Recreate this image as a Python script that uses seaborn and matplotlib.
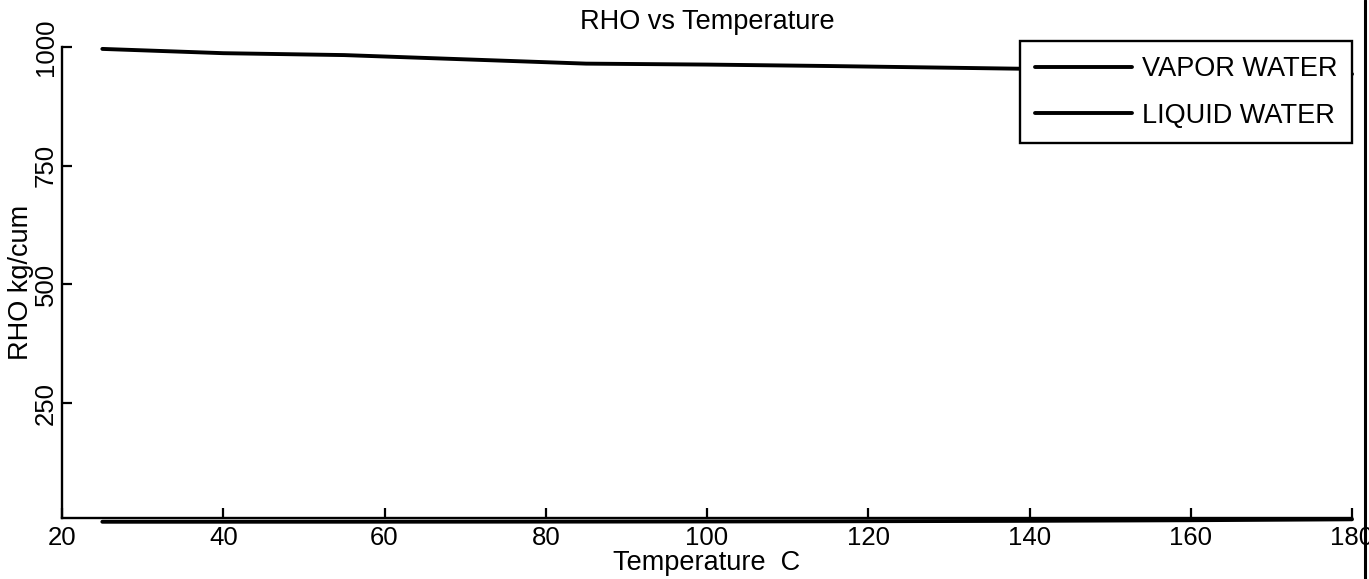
import matplotlib
matplotlib.use("Agg")
import matplotlib.pyplot as plt
from matplotlib.lines import Line2D
import pandas as pd
import seaborn as sns

# Temperatures (C) at which densities were tabulated
temperature = [25, 40, 55, 70, 85, 100, 115, 140, 160, 180]
# Density of saturated vapour, kg/m^3
rho_vapor = [0.02, 0.05, 0.10, 0.20, 0.35, 0.60, 0.97, 1.97, 3.26, 5.16]
# Density of liquid water, kg/m^3
rho_liquid = [996, 987, 983, 974, 965, 963, 960, 954, 949, 943]

series_names = ["VAPOR WATER", "LIQUID WATER"]
x_ticks = [20, 40, 60, 80, 100, 120, 140, 160, 180]
y_ticks = [250, 500, 750, 1000]

df = pd.DataFrame({
    "Temperature": temperature * 2,
    "RHO": rho_vapor + rho_liquid,
    "phase": [series_names[0]] * len(temperature) + [series_names[1]] * len(temperature),
})

sns.set_theme(style="ticks")
plt.rcParams["font.family"] = ["Liberation Sans", "DejaVu Sans"]
plt.rcParams["axes.edgecolor"] = "black"
plt.rcParams["text.color"] = "black"
plt.rcParams["axes.labelcolor"] = "black"

fig = plt.figure(figsize=(13.69, 5.79), dpi=100)
ax = fig.add_axes([0.0453, 0.1054, 0.9423, 0.8134])

sns.lineplot(
    data=df, x="Temperature", y="RHO", hue="phase",
    hue_order=series_names, palette=["black", "black"],
    linewidth=2.8, estimator=None, ax=ax,
)
for ln in ax.lines:
    ln.set_clip_on(False)

ax.set_xlim(20, 180)
ax.set_ylim(8, 1000)
ax.set_xticks(x_ticks)
ax.set_yticks(y_ticks)

for side in ("top", "right"):
    ax.spines[side].set_visible(False)
for side in ("left", "bottom"):
    ax.spines[side].set_linewidth(1.7)
    ax.spines[side].set_color("black")

ax.tick_params(axis="both", direction="in", length=7, width=1.6,
               colors="black", labelsize=18.5)
ax.tick_params(axis="x", pad=6)
ax.tick_params(axis="y", pad=3, labelrotation=90)
for lab in ax.get_yticklabels():
    lab.set_verticalalignment("center")

ax.set_title("RHO vs Temperature", fontsize=19.5, pad=13)
ax.set_xlabel("Temperature  C", fontsize=19.5, labelpad=0)
ax.set_ylabel("RHO kg/cum", fontsize=19.5)
ax.yaxis.set_label_coords(-0.0215, 0.5)

leg = ax.legend(
    loc="upper right", bbox_to_anchor=(1.0, 1.012), frameon=True,
    fancybox=False, edgecolor="black", framealpha=1, fontsize=19.5,
    handlelength=3.6, handletextpad=0.35, labelspacing=0.75,
    borderpad=0.55, borderaxespad=0.0,
)
leg.get_frame().set_linewidth(1.7)
for h in leg.get_lines():
    h.set_linewidth(2.8)

# sheet edge along the right side
fig.add_artist(Line2D([0.9971, 0.9971], [0, 1], transform=fig.transFigure,
                      color="black", linewidth=2.2))

fig.savefig("out.png", dpi=100, facecolor="white")
